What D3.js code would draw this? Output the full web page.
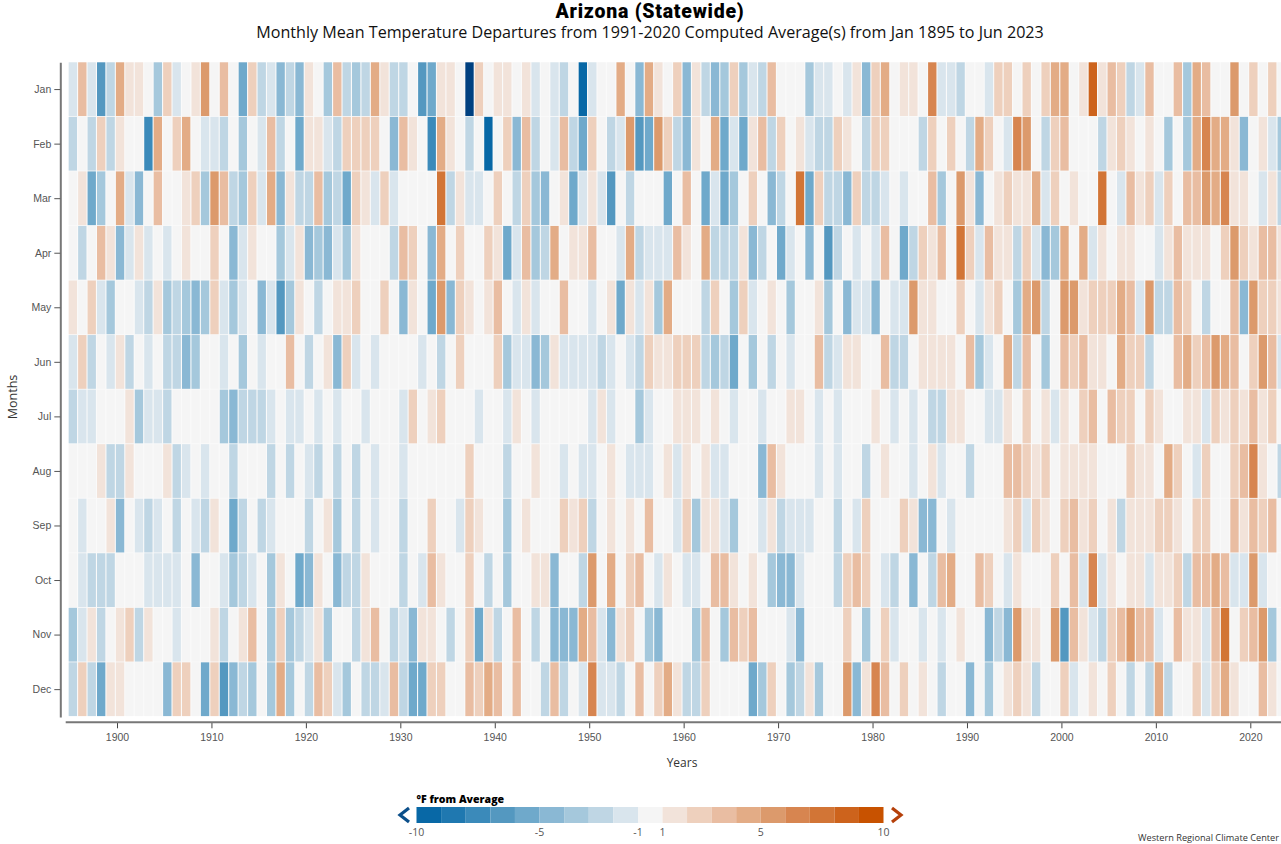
<!DOCTYPE html>
<html>
<head>
<meta charset="utf-8">
<script src="https://cdn.jsdelivr.net/npm/d3@7"></script>
<style>
  html, body { margin: 0; padding: 0; background: #fff; overflow: hidden; }
  svg { display: block; font-family: "Open Sans", "Noto Sans", sans-serif; }
</style>
</head>
<body>
<div id="chart"></div>
<script>
const width = 1281;
const height = 844;

const months = ["Jan","Feb","Mar","Apr","May","Jun","Jul","Aug","Sep","Oct","Nov","Dec"];
const firstYear = 1895;
const yearTicks = [1900,1910,1920,1930,1940,1950,1960,1970,1980,1990,2000,2010,2020];

const jan = [-1.5,3.5,-1.5,-6.5,-2.5,4.5,1.5,1.5,0,-3.5,2.5,-1.5,0,1.5,5.5,0,3.5,0,-5.5,2.5,-2.5,-1.5,-4.5,-2.5,-4.5,1.5,0,-3.5,
  3.5,-2.5,-3.5,-2.5,4.5,1.5,-2.5,-2.5,0,-6.5,-5.5,1.5,1.5,0,-10.5,2.5,0,1.5,1.5,0,1.5,-1.5,0,-1.5,-2.5,0,-9.5,-1.5,0,0,4.5,0,-4.5,
  4.5,1.5,0,2.5,-4.5,1.5,-2.5,-4.5,-3.5,2.5,-3.5,-1.5,-2.5,3.5,0,0,0,-3.5,-1.5,-1.5,0,-1.5,1.5,-4.5,2.5,4.5,0,1.5,1.5,0,6.5,-1.5,-1.5,
  -2.5,0,0,-1.5,2.5,2.5,0,2.5,0,2.5,4.5,4.5,0,1.5,8.5,1.5,3.5,2.5,-2.5,-1.5,3.5,0,0,3.5,-3.5,4.5,3.5,0,0,5.5,0,2.5,0,2.5,0];
const feb = [-2.5,0,-2.5,2.5,-2.5,1.5,0,0,-7.5,4.5,0,2.5,4.5,0,-1.5,-1.5,-2.5,0,-3.5,0,-1.5,3.5,-2.5,0,-5.5,1.5,1.5,-1.5,
  -2.5,2.5,2.5,2.5,2.5,0,-4.5,3.5,1.5,0,-7.5,4.5,1.5,0,-2.5,0,-9.5,0,2.5,-4.5,3.5,-2.5,0,-1.5,3.5,-2.5,-5.5,2.5,0,-2.5,-1.5,5.5,-6.5,
  -5.5,5.5,2.5,-2.5,-4.5,1.5,0,4.5,-5.5,-1.5,-5.5,1.5,3.5,-2.5,2.5,0,1.5,-1.5,-2.5,-2.5,2.5,1.5,0,-2.5,2.5,2.5,0,0,0,-2.5,2.5,0,2.5,
  0,-2.5,4.5,2.5,0,-1.5,6.5,5.5,0,-2.5,2.5,3.5,0,0,0,-2.5,1.5,2.5,1.5,0,1.5,0,-3.5,0,-3.5,4.5,6.5,4.5,4.5,1.5,-4.5,0,1.5,-1.5,-3.5];
const mar = [0,1.5,-5.5,-3.5,0,4.5,-1.5,-4.5,0,3.5,0,0,1.5,2.5,-3.5,5.5,3.5,-2.5,-3.5,2.5,-1.5,4.5,-4.5,1.5,-2.5,-2.5,3.5,-3.5,
  -2.5,-5.5,2.5,1.5,-1.5,2.5,-1.5,0,0,0,0,7.5,-2.5,1.5,-1.5,-1.5,0,2.5,0,-2.5,2.5,-3.5,-4.5,0,1.5,-5.5,-1.5,1.5,-1.5,-6.5,0,-2.5,0,
  0,0,-5.5,0,3.5,0,-5.5,-1.5,-5.5,-3.5,0,2.5,0,-4.5,-2.5,0,7.5,-5.5,2.5,-2.5,-2.5,-4.5,2.5,-2.5,-2.5,-1.5,0,-1.5,0,0,3.5,-3.5,0,
  5.5,1.5,-4.5,0,1.5,2.5,1.5,1.5,4.5,-1.5,2.5,0,1.5,0,0,7.5,0,-1.5,3.5,1.5,2.5,-1.5,2.5,0,3.5,3.5,5.5,4.5,6.5,1.5,1.5,0,-1.5,1.5,-2.5];
const apr = [0,-2.5,0,3.5,1.5,-4.5,-1.5,1.5,-1.5,0,-1.5,0,1.5,0,0,2.5,0,-4.5,-1.5,1.5,0,0,-3.5,-1.5,1.5,-4.5,-3.5,-4.5,
  -1.5,-3.5,1.5,0,0,0,-2.5,3.5,2.5,0,-4.5,4.5,0,2.5,0,0,2.5,1.5,-5.5,-1.5,3.5,-3.5,-2.5,4.5,0,1.5,1.5,3.5,0,0,-1.5,4.5,-2.5,
  -1.5,-1.5,-1.5,3.5,1.5,0,4.5,-2.5,-2.5,-2.5,1.5,-4.5,-2.5,0,-5.5,-1.5,0,-4.5,0,-6.5,-2.5,0,-1.5,0,-1.5,3.5,0,-5.5,-2.5,2.5,1.5,3.5,0,
  7.5,2.5,-1.5,3.5,1.5,1.5,-2.5,2.5,-1.5,-4.5,-3.5,4.5,0,4.5,-1.5,1.5,0,1.5,1.5,0,0,-1.5,1.5,3.5,1.5,1.5,1.5,0,2.5,5.5,2.5,1.5,3.5,3.5,1.5];
const may = [1.5,0,2.5,-1.5,-3.5,0,0,-1.5,-2.5,1.5,-3.5,-2.5,-3.5,-4.5,-3.5,2.5,-1.5,-3.5,-1.5,0,-4.5,-1.5,-6.5,-3.5,1.5,0,-2.5,0,
  1.5,1.5,2.5,0,0,2.5,0,-4.5,1.5,0,-5.5,5.5,-4.5,2.5,1.5,0,1.5,3.5,0,-1.5,1.5,-1.5,0,0,3.5,0,0,-1.5,0,1.5,-5.5,1.5,-1.5,
  1.5,-3.5,4.5,0,0,0,-2.5,2.5,0,-3.5,2.5,-1.5,0,1.5,0,-3.5,0,0,1.5,-3.5,0,-4.5,-1.5,-1.5,-4.5,0,-1.5,-1.5,5.5,1.5,1.5,0,0,
  2.5,0,-1.5,1.5,2.5,0,-3.5,4.5,5.5,-2.5,0,5.5,5.5,1.5,2.5,2.5,2.5,4.5,3.5,-1.5,5.5,-2.5,-2.5,3.5,2.5,0,-2.5,0,0,3.5,-4.5,5.5,2.5,2.5,1.5];
const jun = [-1.5,2.5,-2.5,0,-1.5,1.5,-2.5,0,-1.5,0,-2.5,-2.5,-4.5,-3.5,0,0,-1.5,0,-3.5,0,-1.5,0,0,3.5,0,-2.5,0,1.5,
  -4.5,2.5,-1.5,0,-1.5,0,0,0,0,-1.5,0,-2.5,0,2.5,0,0,0,2.5,-3.5,-1.5,-1.5,-4.5,-3.5,1.5,-1.5,-1.5,-1.5,-1.5,-2.5,-1.5,0,-1.5,-2.5,
  2.5,1.5,1.5,2.5,2.5,2.5,-2.5,-3.5,-2.5,-5.5,0,-3.5,0,-2.5,0,-1.5,0,0,3.5,-2.5,-1.5,1.5,1.5,0,0,3.5,-2.5,-2.5,0,1.5,1.5,1.5,1.5,
  0,3.5,-3.5,-1.5,0,4.5,-2.5,3.5,0,-3.5,0,3.5,2.5,3.5,1.5,1.5,0,4.5,2.5,2.5,-2.5,0,0,3.5,4.5,2.5,3.5,5.5,4.5,3.5,0,2.5,5.5,3.5,-1.5];
const jul = [-2.5,-1.5,-1.5,0,0,0,1.5,-3.5,-1.5,-1.5,-2.5,0,0,0,0,0,-3.5,-4.5,-2.5,-2.5,-2.5,-1.5,0,-1.5,-1.5,0,-1.5,0,
  -1.5,0,0,-1.5,0,0,0,-1.5,2.5,0,1.5,2.5,0,0,0,-1.5,0,0,-1.5,1.5,0,-1.5,0,0,0,0,0,-1.5,1.5,-1.5,0,0,-3.5,
  -1.5,0,0,1.5,1.5,1.5,0,1.5,0,-1.5,0,0,-1.5,0,0,1.5,1.5,0,-1.5,0,-1.5,0,0,0,1.5,0,-1.5,0,-1.5,0,-2.5,-2.5,1.5,
  1.5,0,0,-1.5,-1.5,1.5,0,2.5,0,1.5,-1.5,1.5,0,2.5,3.5,0,3.5,2.5,2.5,0,2.5,1.5,0,0,1.5,1.5,-1.5,2.5,1.5,2.5,1.5,3.5,1.5,2.5,0];
const aug = [0,0,0,1.5,-2.5,-2.5,1.5,0,0,0,1.5,-2.5,-1.5,0,-1.5,0,0,-2.5,0,0,0,-2.5,0,-2.5,0,-1.5,-2.5,0,
  -2.5,0,-2.5,0,-1.5,0,0,-1.5,0,0,0,0,0,0,2.5,0,0,0,-2.5,0,0,1.5,0,0,-1.5,0,-1.5,-1.5,0,1.5,0,-1.5,-1.5,
  -1.5,0,1.5,-1.5,1.5,0,1.5,-1.5,-1.5,0,0,0,-4.5,3.5,1.5,0,0,0,-1.5,0,-1.5,0,0,-2.5,0,1.5,0,0,-1.5,0,1.5,-1.5,0,
  0,-2.5,0,0,0,3.5,3.5,2.5,1.5,2.5,0,1.5,1.5,1.5,1.5,0,0,0,2.5,1.5,1.5,0,4.5,2.5,0,-1.5,2.5,0,0,2.5,3.5,6.5,1.5,0,-2.5];
const sep = [0,-1.5,0,0,1.5,-4.5,0,-1.5,-2.5,-1.5,0,-2.5,0,-1.5,-2.5,1.5,0,-5.5,-2.5,0,-2.5,-1.5,0,0,0,-2.5,0,1.5,
  -3.5,0,-2.5,0,-1.5,0,0,-2.5,0,0,2.5,0,0,-1.5,2.5,1.5,0,0,-3.5,0,1.5,0,0,0,2.5,1.5,2.5,-2.5,0,1.5,0,1.5,0,
  3.5,0,0,-1.5,2.5,-3.5,1.5,1.5,-1.5,-3.5,0,0,-1.5,1.5,-2.5,-1.5,-1.5,-1.5,0,0,-2.5,0,-1.5,2.5,0,0,0,2.5,1.5,-4.5,-4.5,0,-1.5,
  0,0,0,0,0,1.5,2.5,-1.5,2.5,1.5,0,2.5,3.5,1.5,2.5,0,1.5,-2.5,1.5,1.5,1.5,2.5,2.5,1.5,0,2.5,2.5,0,0,3.5,1.5,3.5,2.5,3.5,0];
const oct = [0,-1.5,-2.5,-2.5,-2.5,0,0,0,-1.5,-1.5,-1.5,-1.5,0,-4.5,0,0,-1.5,-3.5,-2.5,-1.5,0,-3.5,1.5,0,-5.5,-4.5,1.5,0,
  -4.5,-2.5,-2.5,1.5,0,0,0,-2.5,0,-1.5,3.5,1.5,0,0,2.5,0,-2.5,0,-3.5,0,0,1.5,1.5,-4.5,0,0,-2.5,5.5,0,4.5,0,2.5,3.5,
  0,-1.5,1.5,0,-1.5,-1.5,0,3.5,3.5,1.5,0,1.5,0,-3.5,-4.5,-4.5,-1.5,0,0,0,-2.5,2.5,3.5,2.5,0,-1.5,-2.5,0,-4.5,0,-2.5,3.5,4.5,
  0,0,3.5,2.5,0,-1.5,1.5,0,0,0,2.5,0,3.5,-1.5,6.5,-1.5,1.5,0,1.5,1.5,-1.5,1.5,1.5,2.5,-2.5,3.5,3.5,4.5,3.5,-1.5,-1.5,5.5,-1.5,0,0];
const nov = [-3.5,-1.5,1.5,-2.5,0,1.5,2.5,-2.5,1.5,0,0,-1.5,0,0,0,1.5,-2.5,0,1.5,3.5,0,-3.5,2.5,-3.5,-2.5,-1.5,1.5,-3.5,
  0,0,-2.5,1.5,3.5,0,-2.5,-1.5,-4.5,1.5,1.5,0,-2.5,0,2.5,-5.5,1.5,-2.5,0,3.5,0,-2.5,0,-4.5,-4.5,-4.5,4.5,3.5,-1.5,-4.5,1.5,2.5,0,
  -3.5,-4.5,0,0,0,-3.5,3.5,0,-3.5,3.5,2.5,3.5,0,0,0,-1.5,-4.5,0,0,0,0,2.5,0,-3.5,0,2.5,-1.5,0,0,-1.5,0,-1.5,0,
  1.5,0,0,-4.5,-2.5,-4.5,5.5,1.5,1.5,0,5.5,-6.5,3.5,1.5,-1.5,-2.5,2.5,3.5,5.5,3.5,3.5,-1.5,0,3.5,1.5,1.5,-1.5,3.5,7.5,0,2.5,3.5,5.5,-3.5,0];
const dec = [-2.5,2.5,-2.5,-5.5,1.5,1.5,0,0,0,0,-4.5,2.5,2.5,0,-5.5,2.5,-6.5,-4.5,-2.5,-3.5,0,-3.5,4.5,-3.5,0,-2.5,3.5,2.5,
  -1.5,-3.5,0,-2.5,-2.5,-1.5,3.5,-2.5,-5.5,-5.5,2.5,2.5,0,0,3.5,2.5,4.5,3.5,0,3.5,0,0,-2.5,3.5,-2.5,0,-1.5,6.5,-1.5,-1.5,-2.5,0,3.5,
  0,2.5,4.5,1.5,-2.5,-2.5,2.5,0,0,0,0,-5.5,-3.5,2.5,0,-3.5,-2.5,1.5,-3.5,0,0,5.5,-4.5,1.5,6.5,3.5,0,2.5,0,1.5,0,-2.5,0,
  0,-4.5,0,-3.5,0,1.5,2.5,1.5,-2.5,0,0,2.5,-1.5,0,1.5,0,2.5,0,-2.5,0,-2.5,4.5,-2.5,0,0,2.5,-1.5,2.5,4.5,1.5,0,0,3.5,1.5,0];
const rows = [jan,feb,mar,apr,may,jun,jul,aug,sep,oct,nov,dec];

const classEdges = [-10,-9,-8,-7,-6,-5,-4,-3,-2,-1,1,2,3,4,5,6,7,8,9,10];
const classColors = ["#004080","#0868a6","#1f78b0","#3b8aba","#5498c0","#6fa9cb","#8ab8d4","#a5c8dc","#bfd6e4","#d9e5ed","#f5f5f5",
  "#f2e3da","#eed0bd","#e9bda2","#e3ac86","#dc9a6c","#d78550","#d27536","#cd631c","#c85200","#a33a00"];
const legendTicks = [-10,-5,-1,1,5,10];

const svg = d3.select("#chart").append("svg")
  .attr("width", width)
  .attr("height", height);

const color = d3.scaleThreshold().domain(classEdges).range(classColors);

const x = d3.scaleLinear().domain([1900, 2020]).range([117, 1250.3]);
const step = x(1901) - x(1900);
const y = d3.scaleBand().domain(months).range([62.3, 716.9]);

// faint backing so the gaps between the pale cells stay soft
svg.append("rect")
  .attr("x", x(firstYear) - 1.1)
  .attr("y", y.range()[0])
  .attr("width", width - x(firstYear) + 1.1)
  .attr("height", y.range()[1] - y.range()[0] - 0.8)
  .attr("fill", "#fafafa");

// flatten to one record per cell
const cells = [];
rows.forEach((vals, m) => {
  vals.forEach((v, i) => cells.push({ month: months[m], year: firstYear + i, value: v }));
});

svg.append("g").selectAll("rect")
  .data(cells)
  .enter()
  .append("rect")
  .attr("x", d => x(d.year) - 1.1)
  .attr("y", d => y(d.month))
  .attr("width", step - 1.1)
  .attr("height", y.bandwidth() - 0.8)
  .attr("fill", d => color(d.value));

// y axis
const yAxis = svg.append("g")
  .attr("transform", "translate(60.3,0)")
  .call(d3.axisLeft(y).tickSize(6).tickPadding(3).tickSizeOuter(0));
yAxis.select(".domain").attr("stroke", "#777").attr("stroke-width", 2);
yAxis.selectAll(".tick line").attr("stroke", "#555");
yAxis.selectAll("text").attr("fill", "#555").style("font-size", "10.5px");

// x axis
const xAxis = svg.append("g")
  .attr("transform", "translate(0,722.3)")
  .call(d3.axisBottom(x).tickValues(yearTicks).tickFormat(d3.format("d")).tickSize(6).tickPadding(5));
xAxis.select(".domain").remove();
xAxis.append("line")
  .attr("x1", 65.7)
  .attr("x2", width)
  .attr("stroke", "#777")
  .attr("stroke-width", 2);
xAxis.selectAll(".tick line").attr("stroke", "#444");
xAxis.selectAll("text").attr("fill", "#555").style("font-size", "10.5px");

svg.append("text")
  .attr("transform", "translate(17,397) rotate(-90)")
  .attr("text-anchor", "middle")
  .attr("fill", "#333")
  .style("font-size", "12.5px")
  .text("Months");

svg.append("text")
  .attr("x", 682)
  .attr("y", 767)
  .attr("text-anchor", "middle")
  .attr("fill", "#333")
  .style("font-size", "12px")
  .text("Years");

// titles
svg.append("text")
  .attr("x", 650)
  .attr("y", 18)
  .attr("text-anchor", "middle")
  .attr("fill", "#000")
  .style("font-family", "Roboto, sans-serif")
  .style("font-size", "19.5px")
  .style("font-weight", "900")
  .style("letter-spacing", "0.75px")
  .text("Arizona (Statewide)");

svg.append("text")
  .attr("x", 650)
  .attr("y", 38)
  .attr("text-anchor", "middle")
  .attr("fill", "#111")
  .style("font-size", "16.12px")
  .text("Monthly Mean Temperature Departures from 1991-2020 Computed Average(s) from Jan 1895 to Jun 2023");

// legend
const legendX = d3.scaleLinear().domain([-10, -1, 1, 10]).range([416.5, 638, 662.5, 883.5]);
const legend = svg.append("g");

legend.selectAll("rect")
  .data(d3.pairs(classEdges))
  .enter()
  .append("rect")
  .attr("x", d => legendX(d[0]))
  .attr("y", 807)
  .attr("width", d => legendX(d[1]) - legendX(d[0]))
  .attr("height", 16)
  .attr("fill", d => color(d[0]));

legend.append("text")
  .attr("x", 416.5)
  .attr("y", 803)
  .attr("fill", "#000")
  .style("font-size", "10.6px")
  .style("font-weight", "800")
  .text("°F from Average");

legend.selectAll(".legend-tick")
  .data(legendTicks)
  .enter()
  .append("text")
  .attr("class", "legend-tick")
  .attr("x", d => legendX(d))
  .attr("y", 836)
  .attr("text-anchor", "middle")
  .attr("fill", "#555")
  .style("font-size", "10.5px")
  .text(d => d);

// overflow arrows at the two ends
legend.append("path")
  .attr("d", "M409,808L400,815L409,822")
  .attr("fill", "none")
  .attr("stroke", "#0b4f8a")
  .attr("stroke-width", 3.2);
legend.append("path")
  .attr("d", "M892,808L901,815L892,822")
  .attr("fill", "none")
  .attr("stroke", "#b5400a")
  .attr("stroke-width", 3.2);

svg.append("text")
  .attr("x", 1279)
  .attr("y", 841)
  .attr("text-anchor", "end")
  .attr("fill", "#333")
  .style("font-size", "9.2px")
  .text("Western Regional Climate Center");
</script>
</body>
</html>
